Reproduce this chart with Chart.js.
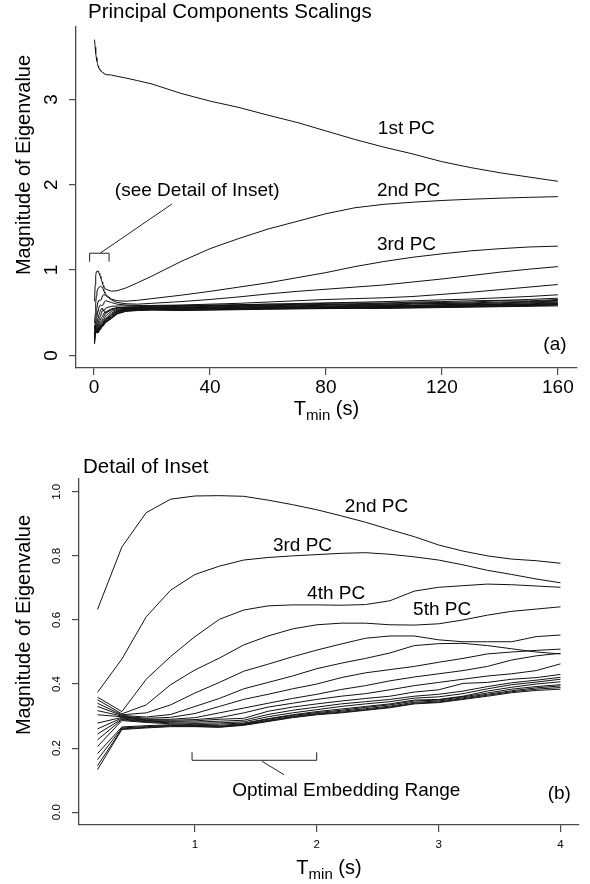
<!DOCTYPE html>
<html>
<head>
<meta charset="utf-8">
<script src="https://cdn.jsdelivr.net/npm/chart.js@4.4.1/dist/chart.umd.min.js"></script>
<style>
  body { margin: 0; background: #fff; }
  canvas { position: absolute; left: 0; }
  #pcTop { top: 0; }
  #pcDetail { top: 420px; }
</style>
</head>
<body>
<canvas id="pcTop" width="590" height="420"></canvas>
<canvas id="pcDetail" width="590" height="464"></canvas>
<script>
// T_min (s) sampled in the detail panel, and the coarser tail used in panel (a)
const detailT = [0.2, 0.4, 0.6, 0.8, 1.0, 1.2, 1.4, 1.6, 1.8, 2.0, 2.2, 2.4, 2.6, 2.8, 3.0, 3.2, 3.4, 3.6, 3.8, 4.0];
const tailT = [6, 8, 11, 15, 20, 30, 40, 50, 60, 70, 80, 90, 100, 110, 120, 130, 140, 150, 160];

// tick labels
const topXTicks = [0, 40, 80, 120, 160];
const topYTicks = [0, 1, 2, 3];
const detailXTicks = [1, 2, 3, 4];
const detailYTicks = [0.0, 0.2, 0.4, 0.6, 0.8, 1.0];

// 1st PC only shows in panel (a)
const pc1Early = [3.70, 3.61, 3.54, 3.49, 3.45, 3.42, 3.39, 3.37, 3.36, 3.35, 3.34, 3.33, 3.325, 3.32, 3.315, 3.31, 3.305, 3.30, 3.295, 3.29];
const pc1Tail = [3.285, 3.27, 3.25, 3.22, 3.18, 3.07, 2.98, 2.905, 2.815, 2.73, 2.63, 2.53, 2.44, 2.36, 2.27, 2.20, 2.14, 2.09, 2.04];

// eigenvalue magnitudes, T_min = 0.2 .. 4.0
const pc2Detail = [0.633, 0.828, 0.935, 0.977, 0.987, 0.988, 0.986, 0.974, 0.960, 0.944, 0.925, 0.905, 0.882, 0.860, 0.834, 0.815, 0.800, 0.790, 0.785, 0.777];
const pc3Detail = [0.374, 0.478, 0.610, 0.693, 0.742, 0.768, 0.787, 0.795, 0.800, 0.804, 0.808, 0.810, 0.805, 0.797, 0.787, 0.772, 0.755, 0.742, 0.728, 0.716];
const pc4Detail = [0.359, 0.314, 0.415, 0.486, 0.548, 0.602, 0.631, 0.644, 0.647, 0.647, 0.646, 0.648, 0.660, 0.690, 0.702, 0.707, 0.712, 0.710, 0.706, 0.702];
const pc5Detail = [0.351, 0.307, 0.335, 0.398, 0.444, 0.481, 0.522, 0.550, 0.572, 0.585, 0.590, 0.590, 0.585, 0.584, 0.588, 0.600, 0.615, 0.627, 0.634, 0.641];
const pc6Detail = [0.340, 0.304, 0.310, 0.335, 0.372, 0.405, 0.440, 0.462, 0.485, 0.506, 0.525, 0.543, 0.550, 0.550, 0.538, 0.532, 0.532, 0.532, 0.548, 0.553];
const pc7Detail = [0.330, 0.302, 0.297, 0.305, 0.330, 0.355, 0.385, 0.405, 0.425, 0.448, 0.465, 0.480, 0.497, 0.520, 0.526, 0.527, 0.520, 0.510, 0.500, 0.494];
const pc8Detail = [0.317, 0.300, 0.293, 0.296, 0.308, 0.330, 0.352, 0.368, 0.385, 0.400, 0.420, 0.435, 0.445, 0.455, 0.468, 0.480, 0.494, 0.500, 0.505, 0.509];
const pc9Detail = [0.304, 0.298, 0.290, 0.290, 0.295, 0.310, 0.325, 0.340, 0.355, 0.368, 0.383, 0.395, 0.410, 0.422, 0.432, 0.442, 0.455, 0.475, 0.488, 0.496];
const pc10Detail = [0.278, 0.296, 0.288, 0.287, 0.289, 0.295, 0.310, 0.328, 0.340, 0.352, 0.362, 0.370, 0.382, 0.395, 0.405, 0.415, 0.425, 0.432, 0.442, 0.463];
const pc11Detail = [0.260, 0.294, 0.286, 0.284, 0.285, 0.290, 0.293, 0.315, 0.328, 0.338, 0.347, 0.355, 0.362, 0.375, 0.382, 0.402, 0.405, 0.415, 0.420, 0.430];
const pc12Detail = [0.244, 0.291, 0.284, 0.282, 0.281, 0.284, 0.287, 0.305, 0.318, 0.328, 0.338, 0.345, 0.352, 0.362, 0.368, 0.378, 0.392, 0.404, 0.412, 0.421];
const pc13Detail = [0.226, 0.289, 0.282, 0.279, 0.277, 0.279, 0.282, 0.298, 0.310, 0.320, 0.330, 0.338, 0.345, 0.356, 0.360, 0.370, 0.385, 0.398, 0.406, 0.415];
const pc14Detail = [0.205, 0.286, 0.280, 0.276, 0.273, 0.275, 0.278, 0.292, 0.304, 0.314, 0.322, 0.330, 0.338, 0.350, 0.352, 0.362, 0.378, 0.390, 0.400, 0.407];
const pc15Detail = [0.183, 0.266, 0.270, 0.273, 0.271, 0.271, 0.276, 0.290, 0.302, 0.311, 0.318, 0.327, 0.335, 0.347, 0.350, 0.360, 0.372, 0.384, 0.392, 0.398];
const pc16Detail = [0.164, 0.263, 0.267, 0.271, 0.269, 0.268, 0.274, 0.287, 0.299, 0.308, 0.315, 0.323, 0.331, 0.343, 0.347, 0.357, 0.368, 0.379, 0.388, 0.394];
const pc17Detail = [0.145, 0.260, 0.265, 0.269, 0.268, 0.266, 0.273, 0.285, 0.297, 0.306, 0.312, 0.320, 0.328, 0.340, 0.344, 0.354, 0.365, 0.376, 0.384, 0.389];
const pc18Detail = [0.133, 0.258, 0.263, 0.267, 0.267, 0.265, 0.271, 0.283, 0.295, 0.304, 0.310, 0.318, 0.326, 0.338, 0.342, 0.352, 0.362, 0.373, 0.380, 0.384];

// same components, T_min = 6 .. 160
const pc2Tail = [0.752, 0.758, 0.79, 0.85, 0.93, 1.10, 1.25, 1.37, 1.48, 1.57, 1.66, 1.73, 1.77, 1.795, 1.815, 1.83, 1.842, 1.852, 1.86];
const pc3Tail = [0.66, 0.64, 0.635, 0.645, 0.665, 0.705, 0.75, 0.80, 0.85, 0.91, 0.97, 1.04, 1.10, 1.15, 1.19, 1.225, 1.25, 1.27, 1.28];
const pc4Tail = [0.65, 0.62, 0.605, 0.60, 0.61, 0.63, 0.655, 0.685, 0.72, 0.75, 0.775, 0.80, 0.825, 0.86, 0.895, 0.935, 0.975, 1.01, 1.04];
const pc5Tail = [0.62, 0.60, 0.59, 0.585, 0.585, 0.59, 0.60, 0.61, 0.625, 0.64, 0.655, 0.665, 0.675, 0.69, 0.715, 0.74, 0.77, 0.80, 0.83];
const pc6Tail = [0.575, 0.578, 0.58, 0.58, 0.582, 0.585, 0.59, 0.595, 0.60, 0.608, 0.615, 0.622, 0.63, 0.64, 0.65, 0.66, 0.675, 0.69, 0.71];
const pc7Tail = [0.535, 0.555, 0.565, 0.57, 0.578, 0.585, 0.58, 0.59, 0.60, 0.598, 0.61, 0.615, 0.612, 0.625, 0.63, 0.64, 0.645, 0.655, 0.67];
const pc8Tail = [0.545, 0.56, 0.562, 0.568, 0.565, 0.575, 0.585, 0.58, 0.59, 0.60, 0.598, 0.605, 0.612, 0.615, 0.62, 0.625, 0.64, 0.638, 0.655];
const pc9Tail = [0.535, 0.552, 0.56, 0.56, 0.57, 0.565, 0.575, 0.582, 0.58, 0.59, 0.595, 0.59, 0.60, 0.61, 0.608, 0.615, 0.625, 0.63, 0.645];
const pc10Tail = [0.515, 0.54, 0.552, 0.562, 0.56, 0.568, 0.565, 0.575, 0.582, 0.58, 0.588, 0.595, 0.59, 0.60, 0.605, 0.605, 0.615, 0.625, 0.635];
const pc11Tail = [0.495, 0.53, 0.55, 0.555, 0.562, 0.555, 0.565, 0.568, 0.572, 0.578, 0.575, 0.585, 0.59, 0.588, 0.595, 0.60, 0.605, 0.615, 0.625];
const pc12Tail = [0.48, 0.52, 0.545, 0.552, 0.555, 0.56, 0.555, 0.565, 0.568, 0.57, 0.578, 0.575, 0.585, 0.585, 0.59, 0.595, 0.598, 0.605, 0.615];
const pc13Tail = [0.47, 0.515, 0.54, 0.55, 0.548, 0.552, 0.558, 0.555, 0.562, 0.568, 0.565, 0.575, 0.572, 0.58, 0.585, 0.588, 0.595, 0.598, 0.61];
const pc14Tail = [0.46, 0.51, 0.535, 0.545, 0.55, 0.545, 0.55, 0.558, 0.555, 0.562, 0.568, 0.565, 0.572, 0.575, 0.578, 0.585, 0.588, 0.595, 0.605];
const pc15Tail = [0.45, 0.50, 0.53, 0.54, 0.545, 0.54, 0.548, 0.55, 0.555, 0.555, 0.56, 0.565, 0.565, 0.57, 0.575, 0.578, 0.585, 0.59, 0.60];
const pc16Tail = [0.44, 0.495, 0.525, 0.535, 0.54, 0.538, 0.54, 0.545, 0.55, 0.552, 0.555, 0.558, 0.56, 0.565, 0.57, 0.575, 0.578, 0.585, 0.595];
const pc17Tail = [0.435, 0.49, 0.52, 0.53, 0.535, 0.532, 0.535, 0.54, 0.545, 0.548, 0.55, 0.555, 0.555, 0.56, 0.565, 0.57, 0.575, 0.58, 0.59];
const pc18Tail = [0.43, 0.485, 0.515, 0.525, 0.53, 0.525, 0.53, 0.535, 0.54, 0.545, 0.548, 0.55, 0.55, 0.555, 0.56, 0.565, 0.57, 0.575, 0.58];

const detailSeries = [pc2Detail, pc3Detail, pc4Detail, pc5Detail, pc6Detail, pc7Detail, pc8Detail, pc9Detail,
  pc10Detail, pc11Detail, pc12Detail, pc13Detail, pc14Detail, pc15Detail, pc16Detail, pc17Detail, pc18Detail];
const tailSeries = [pc2Tail, pc3Tail, pc4Tail, pc5Tail, pc6Tail, pc7Tail, pc8Tail, pc9Tail,
  pc10Tail, pc11Tail, pc12Tail, pc13Tail, pc14Tail, pc15Tail, pc16Tail, pc17Tail, pc18Tail];

const FONT = '"Liberation Sans", Arial, Helvetica, sans-serif';
const AXIS = '#4a4a4a';

function toPoints(xs, ys) {
  return ys.map((v, i) => ({ x: xs[i], y: v }));
}

function lineSet(points) {
  return {
    data: points,
    borderColor: '#111',
    borderWidth: 1,
    pointRadius: 0,
    tension: 0,
    fill: false
  };
}

// R style axis: L box, outward ticks, labels drawn separately
function axis(min, max, ticks) {
  return {
    type: 'linear',
    min: min,
    max: max,
    afterBuildTicks: s => { s.ticks = ticks.map(v => ({ value: v })); },
    afterFit: s => { if (s.isHorizontal()) s.height = 0; else s.width = 0; },
    ticks: { display: false },
    grid: { display: true, drawOnChartArea: false, drawTicks: true, tickLength: 7, color: AXIS, lineWidth: 1.2 },
    border: { display: true, color: AXIS, width: 1.3 }
  };
}

function put(ctx, str, x, y, size, align, angle) {
  ctx.save();
  ctx.translate(x, y);
  if (angle) ctx.rotate(angle);
  ctx.font = size + 'px ' + FONT;
  ctx.textAlign = align || 'left';
  ctx.textBaseline = 'alphabetic';
  ctx.fillStyle = '#000';
  ctx.fillText(str, 0, 0);
  ctx.restore();
}

function drawTmin(ctx, cx, base) {
  ctx.save();
  ctx.font = '20px ' + FONT;
  const wT = ctx.measureText('T').width;
  const wS = ctx.measureText(' (s)').width;
  ctx.font = '15px ' + FONT;
  const wM = ctx.measureText('min').width;
  let x0 = cx - (wT + wM + wS) / 2;
  ctx.restore();
  put(ctx, 'T', x0, base, 20);
  put(ctx, 'min', x0 + wT, base + 5, 15);
  put(ctx, ' (s)', x0 + wT + wM, base, 20);
}

function bracket(ctx, x, y, x0, x1, yTop, yBot, lead) {
  const px0 = x.getPixelForValue(x0), px1 = x.getPixelForValue(x1);
  const pt = y.getPixelForValue(yTop), pb = y.getPixelForValue(yBot);
  ctx.save();
  ctx.strokeStyle = '#222';
  ctx.lineWidth = 1;
  ctx.beginPath();
  ctx.moveTo(px0, pb); ctx.lineTo(px0, pt); ctx.lineTo(px1, pt); ctx.lineTo(px1, pb);
  ctx.moveTo(x.getPixelForValue(lead[0]), y.getPixelForValue(lead[1]));
  ctx.lineTo(x.getPixelForValue(lead[2]), y.getPixelForValue(lead[3]));
  ctx.stroke();
  ctx.restore();
}

const up = -Math.PI / 2;

const topText = {
  id: 'topText',
  afterDraw(chart) {
    const { ctx, scales: { x, y } } = chart;
    put(ctx, 'Principal Components Scalings', 88, 18, 20.5);
    topXTicks.forEach(v => put(ctx, String(v), x.getPixelForValue(v), 393, 19, 'center'));
    topYTicks.forEach(v => put(ctx, String(v), 57, y.getPixelForValue(v), 19, 'center', up));
    put(ctx, 'Magnitude of Eigenvalue', 30, 165, 20, 'center', up);
    drawTmin(ctx, (chart.chartArea.left + chart.chartArea.right) / 2, 415);
    put(ctx, '1st PC', x.getPixelForValue(97.9), y.getPixelForValue(2.595), 19);
    put(ctx, '2nd PC', x.getPixelForValue(97.6), y.getPixelForValue(1.868), 19);
    put(ctx, '3rd PC', x.getPixelForValue(97.6), y.getPixelForValue(1.235), 19);
    put(ctx, '(see Detail of Inset)', x.getPixelForValue(7.2), y.getPixelForValue(1.868), 19);
    put(ctx, '(a)', x.getPixelForValue(159), y.getPixelForValue(0.06), 19, 'center');
    bracket(ctx, x, y, -1.5, 5.2, 1.197, 1.098, [2.1, 1.197, 26.9, 1.774]);
  }
};

const detailText = {
  id: 'detailText',
  afterDraw(chart) {
    const { ctx, scales: { x, y } } = chart;
    put(ctx, 'Detail of Inset', 83, 53, 20.5);
    detailXTicks.forEach(v => put(ctx, String(v), x.getPixelForValue(v), 428, 11.5, 'center'));
    detailYTicks.forEach(v => put(ctx, v.toFixed(1), 60, y.getPixelForValue(v), 11.5, 'center', up));
    put(ctx, 'Magnitude of Eigenvalue', 30, 205, 20, 'center', up);
    drawTmin(ctx, (chart.chartArea.left + chart.chartArea.right) / 2, 454);
    put(ctx, '2nd PC', x.getPixelForValue(2.23), y.getPixelForValue(0.936), 19);
    put(ctx, '3rd PC', x.getPixelForValue(1.64), y.getPixelForValue(0.815), 19);
    put(ctx, '4th PC', x.getPixelForValue(1.92), y.getPixelForValue(0.665), 19);
    put(ctx, '5th PC', x.getPixelForValue(2.79), y.getPixelForValue(0.616), 19);
    put(ctx, 'Optimal Embedding Range', x.getPixelForValue(1.306), y.getPixelForValue(0.049), 19);
    put(ctx, '(b)', x.getPixelForValue(3.99), y.getPixelForValue(0.04), 19, 'center');
    bracket(ctx, x, y, 0.976, 1.999, 0.162, 0.187, [1.549, 0.159, 1.731, 0.117]);
  }
};

const baseOptions = {
  responsive: false,
  animation: false,
  events: [],
  plugins: { legend: { display: false }, tooltip: { enabled: false }, title: { display: false } }
};

const topT = detailT.concat(tailT);
const topSets = [lineSet(toPoints(topT, pc1Early.concat(pc1Tail)))]
  .concat(detailSeries.map((d, i) => lineSet(toPoints(topT, d.concat(tailSeries[i])))));

new Chart(document.getElementById('pcTop'), {
  type: 'line',
  data: { datasets: topSets },
  options: Object.assign({}, baseOptions, {
    layout: { padding: { left: 76, right: 13, top: 27, bottom: 52 } },
    scales: { x: axis(-6.2, 166.6, topXTicks), y: axis(-0.148, 3.848, topYTicks) }
  }),
  plugins: [topText]
});

new Chart(document.getElementById('pcDetail'), {
  type: 'line',
  data: { datasets: detailSeries.map(d => lineSet(toPoints(detailT, d))) },
  options: Object.assign({}, baseOptions, {
    layout: { padding: { left: 79, right: 11, top: 59, bottom: 59 } },
    scales: { x: axis(0.048, 4.152, detailXTicks), y: axis(-0.04, 1.04, detailYTicks) }
  }),
  plugins: [detailText]
});
</script>
</body>
</html>
